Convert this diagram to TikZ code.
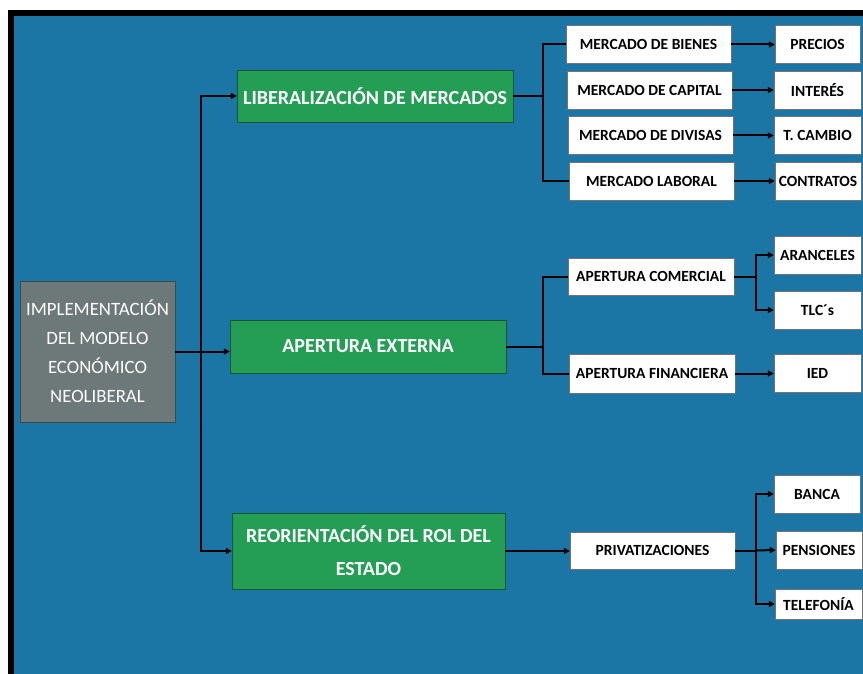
\documentclass[tikz,border=0pt]{standalone}
\usepackage{fontspec}
\setmainfont{Carlito}
\usetikzlibrary{arrows.meta,positioning}
\definecolor{fondo}{HTML}{1B75A5}
\definecolor{verde}{HTML}{259E55}
\definecolor{gris}{HTML}{6D7878}
\tikzset{
  arr/.style={-{Triangle[length=6pt,width=6pt]}, line width=2pt, black},
  biarr/.style={{Triangle[length=6pt,width=6pt]}-{Triangle[length=6pt,width=6pt]}, line width=2pt, black},
  lin/.style={line width=2pt, black},
  raiz/.style={draw=gris!60!black, fill=gris, text=white, align=center, inner sep=0pt,
               font=\fontsize{18.8}{29}\selectfont, minimum width=155pt, minimum height=141pt},
  eje/.style={draw=verde!55!black, fill=verde, text=white, align=center, inner sep=0pt,
              font=\fontsize{20}{33}\selectfont\bfseries, minimum height=52pt},
  caja/.style={draw=black!55, fill=white, inner sep=0pt,
               font=\fontsize{15.5}{17}\selectfont\bfseries, minimum width=165pt, minimum height=38pt},
  hoja/.style={caja, minimum width=87pt},
}
\begin{document}
\begin{tikzpicture}[x=1pt,y=-1pt]
  \useasboundingbox (0,0) rectangle (863,674);
  \clip (0,0) rectangle (863,674);
  \fill[white] (0,0) rectangle (863,674);
  % marco
  \fill[black] (8,10) rectangle (880,690);
  \fill[fondo] (14,16) rectangle (880,690);
  % raiz y ejes
  \node[raiz] (raiz) at (97.5,351.5) {IMPLEMENTACIÓN\\DEL MODELO\\ECONÓMICO\\NEOLIBERAL};
  \node[eje, minimum width=276pt] (lib) at (375,96) {LIBERALIZACIÓN DE MERCADOS};
  \node[eje, minimum width=276pt, minimum height=53pt] (ape) at (368,346.5) {APERTURA EXTERNA};
  \node[eje, minimum width=273pt, minimum height=76pt] (reo) at (368.5,551) {REORIENTACIÓN DEL ROL DEL\\ESTADO};
  % mercados
  \node[caja] (mbien) at (648.5,44.5) {MERCADO DE BIENES};
  \node[caja] (mcap) at (649.5,90) {MERCADO DE CAPITAL};
  \node[caja] (mdiv) at (650.5,135.5) {MERCADO DE DIVISAS};
  \node[caja] (mlab) at (651.5,181) {MERCADO LABORAL};
  \node[hoja, minimum width=85pt] (prec) at (817.5,44.5) {PRECIOS};
  \node[hoja] (inte) at (817.5,90) {INTERÉS};
  \node[hoja] (tcam) at (817.5,135.5) {T. CAMBIO};
  \node[hoja, minimum width=86pt] (cont) at (818,181) {CONTRATOS};
  % apertura
  \node[caja, minimum width=166pt, minimum height=37pt] (acom) at (651,276.5) {APERTURA COMERCIAL};
  \node[caja, minimum width=166pt, minimum height=39pt] (afin) at (652,373.5) {APERTURA FINANCIERA};
  \node[hoja] (aran) at (817.5,255) {ARANCELES};
  \node[hoja] (tlc) at (817.5,310) {TLC´s};
  \node[hoja] (ied) at (817.5,373) {IED};
  % estado
  \node[caja, minimum height=37pt] (priv) at (652.5,550.5) {PRIVATIZACIONES};
  \node[hoja, minimum width=86pt] (banc) at (817,494) {BANCA};
  \node[hoja, minimum width=86pt] (pens) at (819,550) {PENSIONES};
  \node[hoja, minimum height=30pt] (tele) at (818.5,604) {TELEFONÍA};
  % conectores
  \coordinate (tr) at (201,0);
  \coordinate (bk1) at (543,0);
  \coordinate (bk2) at (756,0);
  \draw[arr] (raiz.east) -- (raiz.east -| ape.west);
  \draw[biarr] (lib.west) -- (lib.west -| tr) -- (reo.west -| tr) -- (reo.west);
  \draw[lin] (lib.east) -- (lib.east -| bk1);
  \draw[lin] (mbien.west) -- (mbien.west -| bk1) -- (mlab.west -| bk1) -- (mlab.west);
  \draw[arr] (mbien) -- (prec);
  \draw[arr] (mcap) -- (inte);
  \draw[arr] (mdiv) -- (tcam);
  \draw[arr] (mlab) -- (cont);
  \draw[lin] (ape.east) -- (ape.east -| bk1);
  \draw[lin] (acom.west) -- (acom.west -| bk1) -- (afin.west -| bk1) -- (afin.west);
  \draw[lin] (acom.east) -- (acom.east -| bk2);
  \draw[biarr] (aran.west) -- (aran.west -| bk2) -- (tlc.west -| bk2) -- (tlc.west);
  \draw[arr] (afin) -- (afin -| ied.west);
  \draw[arr] (reo.east) -- (reo.east -| priv.west);
  \draw[lin] (priv.east) -- (priv.east -| bk2);
  \draw[biarr] (banc.west) -- (banc.west -| bk2) -- (tele.west -| bk2) -- (tele.west);
  \draw[arr] (priv.east -| bk2) -- (pens.west);
\end{tikzpicture}
\end{document}
